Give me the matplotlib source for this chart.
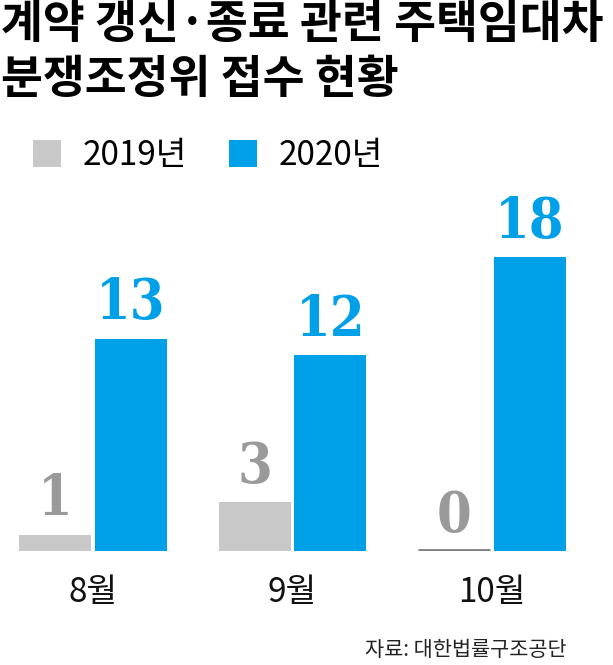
import numpy as np
import matplotlib.pyplot as plt

plt.rcParams['font.family'] = ['Noto Sans CJK KR', 'DejaVu Sans']

months = ['8월', '9월', '10월']
years = ['2019년', '2020년']
cnt_2019 = [1, 3, 0]
cnt_2020 = [13, 12, 18]

title = '계약 갱신·종료 관련 주택임대차\n분쟁조정위 접수 현황'
source = '자료: 대한법률구조공단'

gray = '#c8c8c8'
gray_txt = '#9a9a9a'
blue = '#00a0e9'

W, H = 613, 665
fig = plt.figure(figsize=(W / 100, H / 100), dpi=100)

# axes: baseline at y=551px, group centers ~93/291/492px
ax = fig.add_axes([0, 114 / H, 1, 351 / H])
x = np.arange(len(months))
bw = 0.361
off = 0.19

b1 = ax.bar(x - off, cnt_2019, bw, color=gray, label=years[0])
b2 = ax.bar(x + off, cnt_2020, bw, color=blue, label=years[1])

# zero values get a thin line
for xi, v in zip(x - off, cnt_2019):
    if v == 0:
        ax.plot([xi - bw / 2, xi + bw / 2], [0.05, 0.05], color='#808080', lw=2,
                solid_capstyle='butt')

lab_kw = dict(textcoords='offset points', xytext=(0, 14), ha='center', va='baseline',
              fontsize=40, fontweight='heavy', family=['DejaVu Serif'], fontstretch='condensed')
for xi, v in zip(x - off, cnt_2019):
    ax.annotate(str(v), (xi, v), color=gray_txt, **lab_kw)
for xi, v in zip(x + off, cnt_2020):
    ax.annotate(str(v), (xi, v), color=blue, **lab_kw)

ax.set_xlim(-93 / 199.5, (W - 93) / 199.5)
ax.set_ylim(0, 351 / 16.33)
ax.set_xticks(x)
ax.set_xticklabels(months, fontsize=24, fontweight='light', color='#111111')
ax.tick_params(axis='x', length=0, pad=17)
ax.set_yticks([])
for s in ax.spines.values():
    s.set_visible(False)

leg = fig.legend(handles=[b1, b2], labels=years, loc='upper left',
                 bbox_to_anchor=(33 / W, 1 - 138 / H), ncol=2, frameon=False,
                 fontsize=24, handlelength=0.85, handleheight=0.85,
                 handletextpad=0.65, columnspacing=1.25, borderpad=0, borderaxespad=0)
for t in leg.get_texts():
    t.set_fontweight('light')

fig.text(1 / W, 1 - 2 / H, title, ha='left', va='top', fontsize=32.8,
         fontweight='black', linespacing=1.25, color='#000000')
fig.text(567 / W, 1 - 650 / H, source, ha='right', va='center', fontsize=15,
         color='#222222')

fig.savefig('out.png', dpi=100)
